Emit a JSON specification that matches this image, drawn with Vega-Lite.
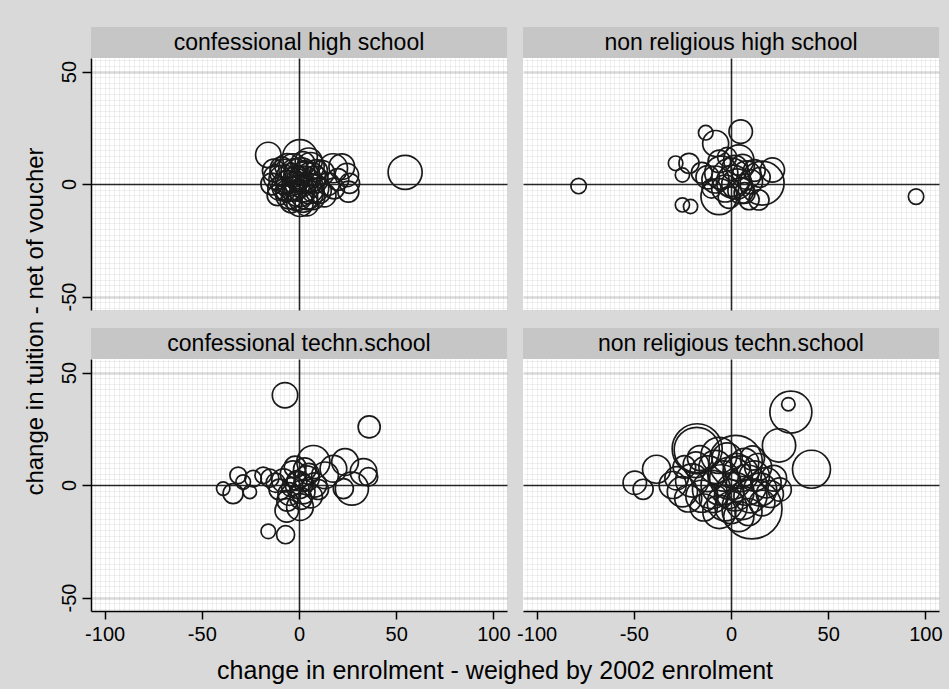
{
"$schema": "https://vega.github.io/schema/vega-lite/v6.json",
"background": "#d9d9d9",
"padding": {"left": 23, "top": 27, "right": 6, "bottom": 5},
"config": {"view": {"stroke": null}, "concat": {"spacing": 16}},
"datasets": {
"chs": [
{"x":54.6,"y":5.2,"w":317},{"x":-15.8,"y":12.9,"w":177},{"x":0.5,"y":12,"w":330},{"x":17.5,"y":7,"w":230},{"x":26,"y":0.3,"w":110},{"x":24.6,"y":4,"w":150},{"x":22,"y":7.7,"w":180},{"x":25.4,"y":-3.4,"w":120},{"x":0.5,"y":-8.6,"w":190},{"x":-5,"y":-5,"w":200},{"x":-8,"y":2,"w":230},{"x":-12,"y":3,"w":160},{"x":-10,"y":-2,"w":150},{"x":3,"y":3,"w":260},{"x":5,"y":-2,"w":250},{"x":-3,"y":0,"w":300},{"x":-2,"y":5,"w":220},{"x":8,"y":2,"w":200},{"x":10,"y":-3,"w":180},{"x":12,"y":5,"w":160},{"x":-6,"y":8,"w":170},{"x":2,"y":-6,"w":240},{"x":6,"y":8,"w":200},{"x":-1,"y":3,"w":150},{"x":1,"y":-1,"w":140},{"x":-4,"y":-8,"w":130},{"x":4,"y":-9,"w":150},{"x":15,"y":0,"w":140},{"x":-14,"y":0,"w":130},{"x":-9,"y":7,"w":140},{"x":7,"y":-6,"w":160},{"x":-2,"y":-3,"w":120},{"x":3,"y":6,"w":110},{"x":0,"y":1,"w":100},{"x":9,"y":6,"w":130},{"x":-7,"y":-3,"w":110},{"x":18,"y":-2,"w":120},{"x":20,"y":2,"w":130},{"x":-11,"y":-5,"w":120},{"x":2,"y":9,"w":160},
{"x":-4,"y":2,"w":280},{"x":1,"y":4,"w":320},{"x":4,"y":-4,"w":300},{"x":-1,"y":-5,"w":260},{"x":6,"y":3,"w":240},{"x":-6,"y":-1,"w":260},{"x":2,"y":0,"w":350},{"x":-3,"y":7,"w":230},{"x":8,"y":-2,"w":220},{"x":0,"y":-3,"w":280},{"x":-8,"y":5,"w":200},{"x":5,"y":10,"w":200},{"x":13,"y":-5,"w":150},{"x":-13,"y":6,"w":140}
],
"nhs": [
{"x":-78.4,"y":-0.9,"w":65},{"x":95.2,"y":-5.6,"w":65},{"x":5,"y":23.3,"w":150},{"x":-13,"y":22.8,"w":58},{"x":-7.9,"y":18,"w":185},{"x":-28.5,"y":9.2,"w":58},{"x":-25,"y":4,"w":55},{"x":-21.6,"y":9.2,"w":110},{"x":-25,"y":-9.3,"w":55},{"x":-20.8,"y":-10,"w":55},{"x":-6.2,"y":-5.6,"w":355},{"x":16,"y":0.4,"w":530},{"x":21.3,"y":6.2,"w":160},{"x":14.4,"y":-7.1,"w":110},{"x":9.3,"y":-7,"w":110},{"x":4,"y":10.7,"w":250},{"x":-5,"y":5,"w":300},{"x":0,"y":3,"w":400},{"x":3,"y":0,"w":250},{"x":-8,"y":2,"w":200},{"x":8,"y":4,"w":220},{"x":5,"y":-3,"w":180},{"x":-3,"y":-2,"w":200},{"x":10,"y":1,"w":160},{"x":-12,"y":3,"w":150},{"x":2,"y":7,"w":180},{"x":-15,"y":5,"w":120},{"x":12,"y":6,"w":130},{"x":-1,"y":-6,"w":130},{"x":6,"y":8,"w":150},{"x":-10,"y":-2,"w":100},{"x":1,"y":1,"w":300},{"x":15,"y":3,"w":110},{"x":-6,"y":10,"w":140},{"x":7,"y":-4,"w":120},{"x":-2,"y":12,"w":100}
],
"cts": [
{"x":-7.2,"y":39.9,"w":176},{"x":36.1,"y":25.8,"w":133},{"x":-15.8,"y":-20.6,"w":58},{"x":-6.9,"y":-22.1,"w":89},{"x":-39,"y":-1.6,"w":49},{"x":-31.3,"y":4.3,"w":75},{"x":-33.9,"y":-3.8,"w":110},{"x":-23.6,"y":2.8,"w":75},{"x":-18.4,"y":4.3,"w":75},{"x":-25.3,"y":-3.1,"w":49},{"x":-28.7,"y":1.3,"w":58},{"x":7.4,"y":10.2,"w":300},{"x":17.7,"y":7.2,"w":195},{"x":23.7,"y":10.2,"w":195},{"x":33.2,"y":5.8,"w":195},{"x":35.7,"y":3.6,"w":95},{"x":27.2,"y":-1.6,"w":300},{"x":22.8,"y":-1.6,"w":110},{"x":13.4,"y":4.3,"w":195},{"x":-6.3,"y":-11.3,"w":150},{"x":0.5,"y":-9.8,"w":195},{"x":-8,"y":2,"w":150},{"x":-3,"y":5,"w":180},{"x":0,"y":0,"w":200},{"x":2,"y":-3,"w":160},{"x":-5,"y":-4,"w":140},{"x":4,"y":3,"w":170},{"x":-10,"y":-2,"w":120},{"x":6,"y":-5,"w":150},{"x":-2,"y":8,"w":130},{"x":3,"y":7,"w":140},{"x":-6,"y":-7,"w":120},{"x":8,"y":0,"w":160},{"x":-12,"y":1,"w":100},{"x":1,"y":-6,"w":130},{"x":-1,"y":2,"w":110},{"x":5,"y":5,"w":120},{"x":-15,"y":3,"w":90},{"x":10,"y":-2,"w":110},{"x":-4,"y":-1,"w":100},{"x":2,"y":1,"w":90}
],
"nts": [
{"x":30.8,"y":32.4,"w":483},{"x":29.5,"y":35.9,"w":49},{"x":24.7,"y":17.6,"w":304},{"x":41.4,"y":7,"w":395},{"x":-49.5,"y":1,"w":150},{"x":-45.2,"y":-1.9,"w":110},{"x":-38.3,"y":7,"w":215},{"x":-17.4,"y":16.1,"w":685},{"x":-17.6,"y":15.6,"w":560},{"x":10.8,"y":-10.6,"w":986},{"x":2.4,"y":10.2,"w":780},{"x":-6.2,"y":13.2,"w":355},{"x":-30,"y":0,"w":200},{"x":-25,"y":-3,"w":250},{"x":-20,"y":2,"w":300},{"x":-15,"y":-5,"w":280},{"x":-12,"y":5,"w":350},{"x":-10,"y":-2,"w":400},{"x":-8,"y":8,"w":300},{"x":-5,"y":0,"w":450},{"x":-3,"y":-8,"w":350},{"x":0,"y":3,"w":500},{"x":2,"y":-3,"w":400},{"x":5,"y":5,"w":350},{"x":8,"y":0,"w":450},{"x":10,"y":-5,"w":300},{"x":12,"y":4,"w":250},{"x":15,"y":-2,"w":300},{"x":18,"y":1,"w":250},{"x":20,"y":-4,"w":200},{"x":-22,"y":-6,"w":200},{"x":-18,"y":9,"w":180},{"x":-6,"y":-12,"w":300},{"x":0,"y":-10,"w":280},{"x":4,"y":-14,"w":250},{"x":-2,"y":12,"w":250},{"x":7,"y":10,"w":220},{"x":14,"y":8,"w":200},{"x":-28,"y":3,"w":150},{"x":22,"y":3,"w":180},{"x":-14,"y":-10,"w":200},{"x":6,"y":-8,"w":300},{"x":-4,"y":4,"w":250},{"x":3,"y":8,"w":200},{"x":-9,"y":-6,"w":220},{"x":16,"y":-8,"w":180},{"x":-1,"y":-4,"w":230},{"x":11,"y":12,"w":160},{"x":-16,"y":12,"w":170},{"x":9,"y":-12,"w":200},{"x":-24,"y":8,"w":140},{"x":25,"y":-2,"w":150}
]
},
"title": {"text": "change in enrolment - weighed by 2002 enrolment", "orient": "bottom", "anchor": "middle", "font": "Liberation Sans", "fontSize": 25, "fontWeight": "normal", "color": "#000000", "offset": 15, "dx": 12},
"hconcat": [
{
"title": {"text": "change in tuition - net of voucher", "orient": "left", "anchor": "middle", "font": "Liberation Sans", "fontSize": 24, "fontWeight": "normal", "color": "#000000", "offset": 11, "dx": 14},
"spacing": 17,
"vconcat": [
{"spacing": 16, "hconcat": [
 {"spacing": 0, "vconcat": [
  {"width": 416, "height": 31, "view": {"fill": "#c6c6c6", "stroke": null}, "data": {"values": [{"label": "confessional high school"}]}, "mark": {"type": "text", "font": "Liberation Sans", "fontSize": 23, "color": "#000000", "baseline": "middle"}, "encoding": {"text": {"field": "label"}}},
  {"width": 416, "height": 252, "view": {"fill": "#ffffff", "stroke": null}, "data": {"name": "chs"},
   "mark": {"type": "point", "shape": "circle", "filled": false, "strokeWidth": 1.7, "color": "#1a1a1a", "opacity": 1},
   "encoding": {
    "x": {"field": "x", "type": "quantitative", "scale": {"domain": [-107, 107], "nice": false, "zero": false}, "axis": {"values": [-105,-102.5,-100,-97.5,-95,-92.5,-90,-87.5,-85,-82.5,-80,-77.5,-75,-72.5,-70,-67.5,-65,-62.5,-60,-57.5,-55,-52.5,-50,-47.5,-45,-42.5,-40,-37.5,-35,-32.5,-30,-27.5,-25,-22.5,-20,-17.5,-15,-12.5,-10,-7.5,-5,-2.5,0,2.5,5,7.5,10,12.5,15,17.5,20,22.5,25,27.5,30,32.5,35,37.5,40,42.5,45,47.5,50,52.5,55,57.5,60,62.5,65,67.5,70,72.5,75,77.5,80,82.5,85,87.5,90,92.5,95,97.5,100,102.5,105], "labels": false, "ticks": false, "domain": false, "grid": true, "gridColor": "#000000", "gridOpacity": {"condition": {"test": "datum.value === 0", "value": 0.85}, "value": 0.06}, "gridWidth": {"condition": {"test": "datum.value === 0", "value": 1.6}, "value": 1}, "title": null}},
    "y": {"field": "y", "type": "quantitative", "scale": {"domain": [-56, 56], "nice": false, "zero": false}, "axis": {"values": [-55,-52.5,-50,-47.5,-45,-42.5,-40,-37.5,-35,-32.5,-30,-27.5,-25,-22.5,-20,-17.5,-15,-12.5,-10,-7.5,-5,-2.5,0,2.5,5,7.5,10,12.5,15,17.5,20,22.5,25,27.5,30,32.5,35,37.5,40,42.5,45,47.5,50,52.5,55], "labelExpr": "datum.value % 50 === 0 ? '' + datum.value : ''", "labelOverlap": false, "labelFlush": false, "labelAngle": -90, "labelAlign": "center", "labelBaseline": "bottom", "labelFont": "Liberation Sans", "labelFontSize": 20, "labelColor": "#000000", "labelPadding": 3, "tickSize": 9, "tickWidth": 1.5, "tickColor": "#000000", "tickOpacity": {"condition": {"test": "datum.value % 50 === 0", "value": 1}, "value": 0}, "domainColor": "#000000", "domainWidth": 1.5, "grid": true, "gridColor": "#000000", "gridOpacity": {"condition": [{"test": "datum.value === 0", "value": 0.85}, {"test": "abs(datum.value) === 50", "value": 0.15}], "value": 0.06}, "gridWidth": {"condition": [{"test": "datum.value === 0", "value": 1.6}, {"test": "abs(datum.value) === 50", "value": 2.5}], "value": 1}, "title": null}},
    "size": {"field": "w", "type": "quantitative", "scale": {"domain": [0, 1500], "range": [0, 5476]}, "legend": null}
   }}
 ]},
 {"spacing": 0, "vconcat": [
  {"width": 416, "height": 31, "view": {"fill": "#c6c6c6", "stroke": null}, "data": {"values": [{"label": "non religious high school"}]}, "mark": {"type": "text", "font": "Liberation Sans", "fontSize": 23, "color": "#000000", "baseline": "middle"}, "encoding": {"text": {"field": "label"}}},
  {"width": 416, "height": 252, "view": {"fill": "#ffffff", "stroke": null}, "data": {"name": "nhs"},
   "mark": {"type": "point", "shape": "circle", "filled": false, "strokeWidth": 1.7, "color": "#1a1a1a", "opacity": 1},
   "encoding": {
    "x": {"field": "x", "type": "quantitative", "scale": {"domain": [-107, 107], "nice": false, "zero": false}, "axis": {"values": [-105,-102.5,-100,-97.5,-95,-92.5,-90,-87.5,-85,-82.5,-80,-77.5,-75,-72.5,-70,-67.5,-65,-62.5,-60,-57.5,-55,-52.5,-50,-47.5,-45,-42.5,-40,-37.5,-35,-32.5,-30,-27.5,-25,-22.5,-20,-17.5,-15,-12.5,-10,-7.5,-5,-2.5,0,2.5,5,7.5,10,12.5,15,17.5,20,22.5,25,27.5,30,32.5,35,37.5,40,42.5,45,47.5,50,52.5,55,57.5,60,62.5,65,67.5,70,72.5,75,77.5,80,82.5,85,87.5,90,92.5,95,97.5,100,102.5,105], "labels": false, "ticks": false, "domain": false, "grid": true, "gridColor": "#000000", "gridOpacity": {"condition": {"test": "datum.value === 0", "value": 0.85}, "value": 0.06}, "gridWidth": {"condition": {"test": "datum.value === 0", "value": 1.6}, "value": 1}, "title": null}},
    "y": {"field": "y", "type": "quantitative", "scale": {"domain": [-56, 56], "nice": false, "zero": false}, "axis": {"values": [-55,-52.5,-50,-47.5,-45,-42.5,-40,-37.5,-35,-32.5,-30,-27.5,-25,-22.5,-20,-17.5,-15,-12.5,-10,-7.5,-5,-2.5,0,2.5,5,7.5,10,12.5,15,17.5,20,22.5,25,27.5,30,32.5,35,37.5,40,42.5,45,47.5,50,52.5,55], "labels": false, "ticks": false, "domain": false, "grid": true, "gridColor": "#000000", "gridOpacity": {"condition": [{"test": "datum.value === 0", "value": 0.85}, {"test": "abs(datum.value) === 50", "value": 0.15}], "value": 0.06}, "gridWidth": {"condition": [{"test": "datum.value === 0", "value": 1.6}, {"test": "abs(datum.value) === 50", "value": 2.5}], "value": 1}, "title": null}},
    "size": {"field": "w", "type": "quantitative", "scale": {"domain": [0, 1500], "range": [0, 5476]}, "legend": null}
   }}
 ]}
]},
{"spacing": 5, "hconcat": [
 {"spacing": 0, "vconcat": [
  {"width": 416, "height": 31, "view": {"fill": "#c6c6c6", "stroke": null}, "data": {"values": [{"label": "confessional techn.school"}]}, "mark": {"type": "text", "font": "Liberation Sans", "fontSize": 23, "color": "#000000", "baseline": "middle"}, "encoding": {"text": {"field": "label"}}},
  {"width": 416, "height": 252, "view": {"fill": "#ffffff", "stroke": null}, "data": {"name": "cts"},
   "mark": {"type": "point", "shape": "circle", "filled": false, "strokeWidth": 1.7, "color": "#1a1a1a", "opacity": 1},
   "encoding": {
    "x": {"field": "x", "type": "quantitative", "scale": {"domain": [-107, 107], "nice": false, "zero": false}, "axis": {"values": [-105,-102.5,-100,-97.5,-95,-92.5,-90,-87.5,-85,-82.5,-80,-77.5,-75,-72.5,-70,-67.5,-65,-62.5,-60,-57.5,-55,-52.5,-50,-47.5,-45,-42.5,-40,-37.5,-35,-32.5,-30,-27.5,-25,-22.5,-20,-17.5,-15,-12.5,-10,-7.5,-5,-2.5,0,2.5,5,7.5,10,12.5,15,17.5,20,22.5,25,27.5,30,32.5,35,37.5,40,42.5,45,47.5,50,52.5,55,57.5,60,62.5,65,67.5,70,72.5,75,77.5,80,82.5,85,87.5,90,92.5,95,97.5,100,102.5,105], "labelExpr": "datum.value % 50 === 0 ? '' + datum.value : ''", "labelOverlap": false, "labelFlush": false, "labelFont": "Liberation Sans", "labelFontSize": 20, "labelColor": "#000000", "labelPadding": 5, "tickSize": 8, "tickWidth": 1.5, "tickColor": "#000000", "tickOpacity": {"condition": {"test": "datum.value % 50 === 0", "value": 1}, "value": 0}, "domainColor": "#000000", "domainWidth": 1.5, "grid": true, "gridColor": "#000000", "gridOpacity": {"condition": {"test": "datum.value === 0", "value": 0.85}, "value": 0.06}, "gridWidth": {"condition": {"test": "datum.value === 0", "value": 1.6}, "value": 1}, "title": null}},
    "y": {"field": "y", "type": "quantitative", "scale": {"domain": [-56, 56], "nice": false, "zero": false}, "axis": {"values": [-55,-52.5,-50,-47.5,-45,-42.5,-40,-37.5,-35,-32.5,-30,-27.5,-25,-22.5,-20,-17.5,-15,-12.5,-10,-7.5,-5,-2.5,0,2.5,5,7.5,10,12.5,15,17.5,20,22.5,25,27.5,30,32.5,35,37.5,40,42.5,45,47.5,50,52.5,55], "labelExpr": "datum.value % 50 === 0 ? '' + datum.value : ''", "labelOverlap": false, "labelFlush": false, "labelAngle": -90, "labelAlign": "center", "labelBaseline": "bottom", "labelFont": "Liberation Sans", "labelFontSize": 20, "labelColor": "#000000", "labelPadding": 3, "tickSize": 9, "tickWidth": 1.5, "tickColor": "#000000", "tickOpacity": {"condition": {"test": "datum.value % 50 === 0", "value": 1}, "value": 0}, "domainColor": "#000000", "domainWidth": 1.5, "grid": true, "gridColor": "#000000", "gridOpacity": {"condition": [{"test": "datum.value === 0", "value": 0.85}, {"test": "abs(datum.value) === 50", "value": 0.15}], "value": 0.06}, "gridWidth": {"condition": [{"test": "datum.value === 0", "value": 1.6}, {"test": "abs(datum.value) === 50", "value": 2.5}], "value": 1}, "title": null}},
    "size": {"field": "w", "type": "quantitative", "scale": {"domain": [0, 1500], "range": [0, 5476]}, "legend": null}
   }}
 ]},
 {"spacing": 0, "vconcat": [
  {"width": 416, "height": 31, "view": {"fill": "#c6c6c6", "stroke": null}, "data": {"values": [{"label": "non religious techn.school"}]}, "mark": {"type": "text", "font": "Liberation Sans", "fontSize": 23, "color": "#000000", "baseline": "middle"}, "encoding": {"text": {"field": "label"}}},
  {"width": 416, "height": 252, "view": {"fill": "#ffffff", "stroke": null}, "data": {"name": "nts"},
   "mark": {"type": "point", "shape": "circle", "filled": false, "strokeWidth": 1.7, "color": "#1a1a1a", "opacity": 1},
   "encoding": {
    "x": {"field": "x", "type": "quantitative", "scale": {"domain": [-107, 107], "nice": false, "zero": false}, "axis": {"values": [-105,-102.5,-100,-97.5,-95,-92.5,-90,-87.5,-85,-82.5,-80,-77.5,-75,-72.5,-70,-67.5,-65,-62.5,-60,-57.5,-55,-52.5,-50,-47.5,-45,-42.5,-40,-37.5,-35,-32.5,-30,-27.5,-25,-22.5,-20,-17.5,-15,-12.5,-10,-7.5,-5,-2.5,0,2.5,5,7.5,10,12.5,15,17.5,20,22.5,25,27.5,30,32.5,35,37.5,40,42.5,45,47.5,50,52.5,55,57.5,60,62.5,65,67.5,70,72.5,75,77.5,80,82.5,85,87.5,90,92.5,95,97.5,100,102.5,105], "labelExpr": "datum.value % 50 === 0 ? '' + datum.value : ''", "labelOverlap": false, "labelFlush": false, "labelFont": "Liberation Sans", "labelFontSize": 20, "labelColor": "#000000", "labelPadding": 5, "tickSize": 8, "tickWidth": 1.5, "tickColor": "#000000", "tickOpacity": {"condition": {"test": "datum.value % 50 === 0", "value": 1}, "value": 0}, "domainColor": "#000000", "domainWidth": 1.5, "grid": true, "gridColor": "#000000", "gridOpacity": {"condition": {"test": "datum.value === 0", "value": 0.85}, "value": 0.06}, "gridWidth": {"condition": {"test": "datum.value === 0", "value": 1.6}, "value": 1}, "title": null}},
    "y": {"field": "y", "type": "quantitative", "scale": {"domain": [-56, 56], "nice": false, "zero": false}, "axis": {"values": [-55,-52.5,-50,-47.5,-45,-42.5,-40,-37.5,-35,-32.5,-30,-27.5,-25,-22.5,-20,-17.5,-15,-12.5,-10,-7.5,-5,-2.5,0,2.5,5,7.5,10,12.5,15,17.5,20,22.5,25,27.5,30,32.5,35,37.5,40,42.5,45,47.5,50,52.5,55], "labels": false, "ticks": false, "domain": false, "grid": true, "gridColor": "#000000", "gridOpacity": {"condition": [{"test": "datum.value === 0", "value": 0.85}, {"test": "abs(datum.value) === 50", "value": 0.15}], "value": 0.06}, "gridWidth": {"condition": [{"test": "datum.value === 0", "value": 1.6}, {"test": "abs(datum.value) === 50", "value": 2.5}], "value": 1}, "title": null}},
    "size": {"field": "w", "type": "quantitative", "scale": {"domain": [0, 1500], "range": [0, 5476]}, "legend": null}
   }}
 ]}
]}
]
}
]
}
